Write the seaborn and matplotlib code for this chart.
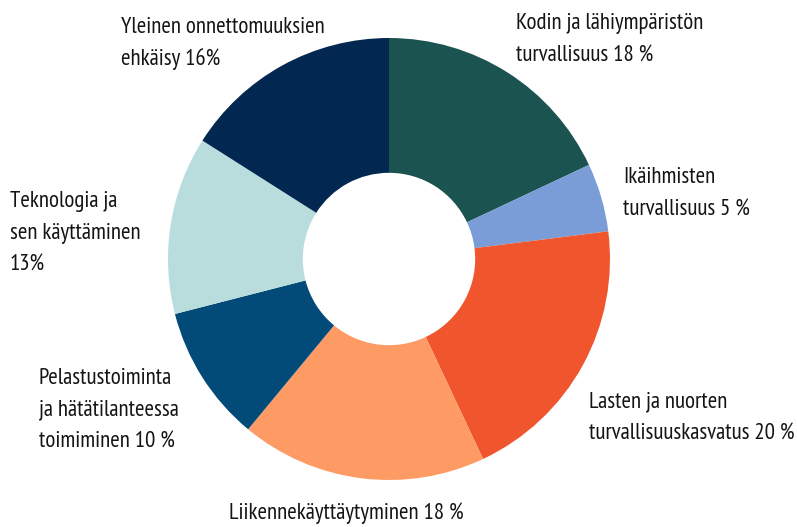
import matplotlib
matplotlib.use("Agg")
import matplotlib.pyplot as plt
import seaborn as sns

# data, clockwise from 12 o'clock
labels = ['Kodin ja lähiympäristön\nturvallisuus 18 %',
          'Ikäihmisten\nturvallisuus 5 %',
          'Lasten ja nuorten\nturvallisuuskasvatus 20 %',
          'Liikennekäyttäytyminen 18 %',
          'Pelastustoiminta\nja hätätilanteessa\ntoimiminen 10 %',
          'Teknologia ja\nsen käyttäminen\n13%',
          'Yleinen onnettomuuksien\nehkäisy 16%']
shares = [18, 5, 20, 18, 10, 13, 16]
colors = ['#1b5350', '#7a9dd8', '#f0552d', '#fe9b65', '#024b79', '#b9dddd', '#022851']

# label anchors in pixels: left edge, baseline of first line
label_pos = [(516, 29), (623, 183), (589, 407), (229, 519),
             (39, 384), (10, 207), (121, 33)]
line_step = 31.5

sns.set_theme(style="white")
plt.rcParams['font.family'] = ['PT Sans Narrow', 'Roboto Condensed', 'DejaVu Sans']

W, H = 797, 527
fig = plt.figure(figsize=(W / 100, H / 100), dpi=100)

#pie centre and radius in pixels
cx, cy, r = 389, 259, 221
ax = fig.add_axes([(cx - r) / W, (H - cy - r) / H, 2 * r / W, 2 * r / H])
ax.pie(shares, colors=colors, startangle=90, counterclock=False, radius=1,
       wedgeprops=dict(width=0.61, linewidth=0))
ax.set_xlim(-1, 1)
ax.set_ylim(-1, 1)
ax.set_aspect('equal')
ax.axis('off')

for lab, (x, y) in zip(labels, label_pos):
    for i, line in enumerate(lab.split('\n')):
        fig.text(x / W, 1 - (y + i * line_step) / H, line, ha='left', va='baseline',
                 fontsize=16.5, color='#141414')

fig.savefig('out.png', dpi=100, facecolor='white')
